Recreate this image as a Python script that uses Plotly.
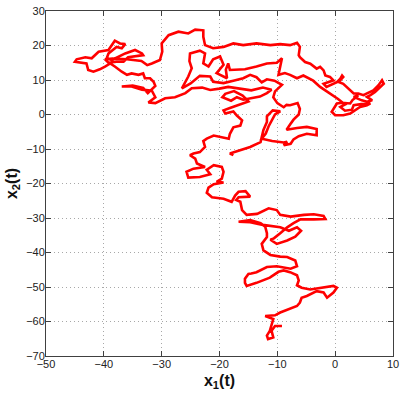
import plotly.graph_objects as go

# path of x1(t), x2(t), split into pieces in drawing order
bottom_tail = [(-9.2, -61.3), (-10.4, -61.3), (-11.0, -62.7), (-10.7, -64.6), (-11.6, -65.1), (-11.8, -64.1),
               (-11.3, -62.7), (-10.9, -60.5), (-10.7, -59.3), (-12.1, -58.4), (-10.4, -58.2), (-9.5, -57.4),
               (-7.8, -56.4), (-6.6, -55.5), (-6.1, -54.5), (-5.8, -53.1), (-4.9, -52.6), (-3.2, -51.2),
               (-2.0, -51.6), (-1.4, -53.1), (-0.3, -51.6), (0.3, -50.2), (-0.3, -49.7), (-2.6, -50.2),
               (-4.3, -50.7), (-5.8, -50.2), (-6.6, -49.5), (-6.3, -48.1), (-6.6, -46.6), (-7.8, -45.7),
               (-8.9, -45.2), (-9.8, -45.6), (-11.3, -47.3), (-13.6, -48.8), (-15.3, -49.7), (-15.6, -48.8),
               (-15.6, -47.6), (-15.0, -46.2), (-14.5, -46.1), (-13.6, -45.7), (-11.8, -44.2), (-10.1, -44.0),
               (-7.7, -44.7), (-6.6, -44.0), (-6.9, -42.3), (-8.3, -41.3), (-9.5, -41.2), (-11.2, -40.7),
               (-12.4, -39.4), (-12.7, -37.5)]

lower_knot = [(-11.8, -35.5), (-11.8, -34.4), (-12.1, -32.5), (-12.9, -31.5), (-14.7, -30.6), (-16.7, -31.1),
              (-14.7, -31.2), (-12.5, -32.0), (-11.2, -32.3), (-9.5, -32.7), (-8.0, -33.7), (-6.6, -32.7),
              (-5.9, -33.7), (-6.9, -35.4), (-8.3, -36.5), (-10.1, -37.5), (-11.2, -36.3), (-10.6, -35.9),
              (-9.5, -34.4), (-8.3, -32.7), (-7.2, -31.5), (-6.0, -30.4), (-3.7, -30.4), (-1.7, -30.3),
              (-2.0, -29.4), (-3.7, -28.9), (-5.4, -29.1), (-7.7, -29.6), (-9.5, -29.1), (-10.1, -27.7),
              (-11.5, -27.2), (-12.7, -28.2), (-13.5, -28.8), (-15.3, -29.1), (-16.1, -27.7), (-16.4, -25.3)]

mid_left = [(-17.1, -24.8), (-16.7, -24.0), (-14.7, -23.8), (-15.5, -22.2), (-16.7, -22.4), (-17.3, -23.5),
            (-17.9, -25.3), (-19.3, -24.4), (-21.3, -24.0), (-22.2, -22.7), (-21.9, -21.2), (-21.0, -20.2),
            (-19.3, -19.7), (-20.5, -19.5), (-19.6, -18.6), (-19.3, -16.6), (-19.6, -15.2), (-21.0, -14.7),
            (-22.2, -16.0), (-21.6, -17.3), (-23.4, -18.1), (-25.4, -18.3), (-25.7, -16.6), (-24.5, -15.7),
            (-22.5, -15.2), (-23.9, -14.2), (-24.2, -12.8), (-25.1, -11.8), (-24.5, -11.3), (-23.4, -10.9),
            (-22.5, -9.4), (-22.8, -7.7), (-22.2, -7.0), (-21.0, -6.1), (-19.9, -6.5), (-18.4, -7.0),
            (-18.2, -5.6), (-17.6, -3.7), (-16.4, -3.2), (-16.1, -1.7)]

center_knot = [(-17.0, -0.3), (-17.6, 0.9), (-19.0, 0.3), (-19.3, 1.2), (-18.2, 1.9), (-16.4, 3.1), (-15.0, 3.8),
               (-16.0, 5.5), (-17.5, 6.8), (-19.0, 6.0), (-19.5, 5.0), (-18.0, 4.0), (-17.0, 5.0), (-15.9, 4.3),
               (-14.4, 4.7), (-13.0, 5.2), (-11.8, 6.2), (-11.0, 7.2), (-12.5, 7.8), (-14.5, 7.0), (-16.5, 7.5),
               (-18.5, 8.0), (-20.0, 7.5), (-21.6, 7.1), (-23.0, 7.8), (-24.8, 7.6), (-25.9, 6.2), (-27.7, 5.0),
               (-29.4, 4.7), (-31.1, 3.3), (-32.3, 3.5), (-31.1, 5.0), (-31.7, 6.9), (-33.4, 7.2), (-35.2, 8.1),
               (-36.9, 8.1), (-35.0, 8.4), (-33.2, 7.7), (-32.4, 6.2), (-31.7, 7.2), (-31.1, 8.3), (-31.4, 9.5),
               (-32.0, 10.5), (-32.9, 10.5), (-33.2, 11.9), (-34.0, 11.5), (-35.2, 11.9), (-36.0, 11.5),
               (-36.9, 12.4), (-38.1, 13.9)]

top_left = [(-38.9, 14.8), (-39.8, 13.9), (-40.7, 13.1), (-41.8, 12.4), (-42.7, 12.9), (-43.0, 14.8), (-45.0, 15.3),
            (-44.7, 16.0), (-43.2, 16.6), (-42.1, 16.3), (-41.5, 17.2), (-40.9, 18.2), (-39.2, 18.7), (-38.1, 21.4),
            (-37.2, 20.6), (-36.3, 20.4), (-36.9, 19.2), (-37.8, 19.6), (-39.2, 17.7), (-39.5, 16.3), (-38.6, 15.8),
            (-37.5, 16.8), (-36.3, 17.7), (-34.6, 18.7), (-33.4, 17.7), (-33.2, 17.2), (-34.6, 16.8), (-35.8, 16.6),
            (-36.6, 15.3), (-37.8, 15.3), (-39.2, 15.0), (-39.8, 16.0), (-38.5, 16.2), (-36.0, 16.0), (-33.5, 15.5),
            (-32.5, 14.3), (-31.7, 14.8)]

top_arc = [(-30.3, 15.8), (-29.9, 18.2), (-30.0, 20.6), (-28.8, 23.0), (-27.1, 24.0), (-25.4, 23.5), (-24.2, 24.6),
           (-22.8, 24.4), (-22.8, 22.5), (-22.5, 20.1), (-21.1, 19.2), (-19.3, 19.6), (-17.6, 20.6), (-15.9, 20.1),
           (-13.6, 20.6), (-11.2, 20.1), (-9.5, 20.4), (-7.8, 20.1), (-6.6, 20.8), (-6.1, 19.6), (-6.3, 17.2),
           (-6.1, 16.6)]

right_knot = [(-5.2, 15.2), (-4.3, 14.7), (-3.5, 13.8), (-3.2, 13.3), (-2.6, 13.8), (-2.0, 12.8), (-1.7, 11.3),
              (-0.9, 10.9), (-0.3, 9.9), (-1.2, 9.4), (-2.0, 8.9), (-1.5, 8.0), (-0.9, 8.5), (0.3, 9.4), (0.9, 10.4),
              (1.2, 11.3), (1.4, 10.9), (0.6, 9.4), (1.4, 8.9), (2.0, 8.0), (2.6, 7.0), (3.2, 6.1), (4.0, 6.1),
              (4.9, 5.6), (5.5, 6.1), (6.6, 7.0), (7.5, 8.5), (7.8, 9.4), (8.1, 9.9), (8.4, 8.9), (7.8, 8.0),
              (6.9, 6.5), (6.1, 5.6), (5.5, 5.1), (6.4, 4.1), (5.5, 3.7), (4.6, 4.1), (3.8, 4.6), (3.2, 5.1),
              (4.0, 5.6), (3.0, 4.2), (2.6, 3.2), (1.2, 3.4), (0.3, 3.2), (-0.3, 1.7), (-0.6, 0.8), (0.0, -0.2),
              (1.4, -0.2), (2.6, 0.3), (3.5, 1.2), (4.3, 2.2), (5.5, 2.7), (6.1, 3.2), (4.5, 3.0), (3.2, 2.7),
              (2.9, 1.4), (1.7, 1.1), (0.9, 2.2), (1.7, 2.9), (0.5, 4.5), (-0.8, 6.0), (-2.0, 7.5), (-2.6, 8.0),
              (-3.8, 9.8), (-5.0, 11.0), (-5.5, 11.3), (-6.6, 10.5), (-7.8, 11.5), (-8.7, 12.0), (-9.8, 11.5)]

upper_mid = [(-9.5, 13.9), (-9.2, 16.3), (-10.1, 15.0), (-11.8, 14.8), (-13.6, 13.9), (-15.6, 13.1), (-18.2, 12.9),
             (-18.5, 14.8), (-18.9, 13.0), (-18.7, 10.5), (-20.5, 12.0), (-19.3, 14.4), (-19.9, 16.8), (-21.1, 16.0),
             (-21.9, 13.9), (-22.8, 14.8), (-22.5, 17.7), (-23.4, 18.5), (-25.1, 17.7), (-25.2, 15.5), (-24.8, 13.4),
             (-25.4, 11.0), (-26.5, 7.6), (-25.0, 9.0), (-23.4, 11.2), (-21.6, 11.0), (-21.1, 9.5), (-19.3, 9.1),
             (-17.6, 9.8), (-15.9, 10.5), (-14.7, 11.5), (-13.6, 10.8), (-12.7, 9.3), (-11.8, 10.2), (-10.5, 9.8),
             (-9.2, 8.6), (-10.4, 6.7), (-10.7, 5.0), (-10.0, 3.3), (-8.9, 2.1), (-8.4, 2.8), (-7.8, 2.7),
             (-6.5, 3.3), (-6.1, 1.6), (-6.3, 0.0), (-7.2, -1.5), (-7.8, -2.9), (-8.4, -4.4), (-6.6, -3.9),
             (-4.9, -3.6), (-3.2, -4.2), (-3.2, -6.0), (-4.9, -5.6), (-6.3, -6.3), (-7.2, -7.2), (-7.7, -8.5),
             (-8.9, -8.9), (-8.3, -7.9), (-8.9, -8.1), (-10.9, -7.7), (-12.7, -7.0), (-12.0, -5.5), (-11.5, -3.4),
             (-11.0, -2.0), (-10.4, 0.0), (-9.5, 0.9), (-10.8, 1.2), (-11.8, -0.5), (-11.8, -2.2), (-12.4, -4.5),
             (-12.9, -8.0), (-14.7, -9.4), (-16.7, -10.4), (-18.2, -11.3), (-17.6, -11.8)]

pieces = [bottom_tail, lower_knot, mid_left, center_knot, top_left, top_arc, right_knot, upper_mid]
x1 = [p[0] for piece in pieces for p in piece]
x2 = [p[1] for piece in pieces for p in piece]

x_ticks = [-50, -40, -30, -20, -10, 0, 10]
y_ticks = [-70, -60, -50, -40, -30, -20, -10, 0, 10, 20, 30]

fig = go.Figure(go.Scatter(x=x1, y=x2, mode='lines', line={'color': 'red', 'width': 2.6}, hoverinfo='skip'))

axis_style = dict(ticks='inside', ticklen=5, tickcolor='#404040', showline=True, mirror='ticks',
                  linecolor='#404040', linewidth=1, showgrid=True, gridcolor='#a8a8a8', griddash='1px,3px',
                  gridwidth=1, zeroline=False, automargin=False,
                  tickfont={'family': 'Liberation Sans', 'size': 11, 'color': '#222'})

fig.update_layout(width=402, height=402, margin={'l': 46, 'r': 9, 't': 11, 'b': 46},
                  paper_bgcolor='white', plot_bgcolor='white', showlegend=False,
                  font={'family': 'Liberation Sans'})
fig.update_xaxes(range=[-50, 10], tickvals=x_ticks, ticklabelstandoff=-2, **axis_style,
                 title={'text': '<b>x<sub>1</sub>(t)</b>', 'font': {'size': 16, 'color': '#111'}, 'standoff': 5})
fig.update_yaxes(range=[-70, 30], tickvals=y_ticks, ticklabelstandoff=-2, **axis_style,
                 title={'text': '<b>x<sub>2</sub>(t)</b>', 'font': {'size': 16, 'color': '#111'}, 'standoff': 4})

# the page body has a default 8px margin; drop it so the figure sits at the window corner
fig.write_html("out.html", config={'displayModeBar': False},
               post_script="document.body.style.margin='0px';")
